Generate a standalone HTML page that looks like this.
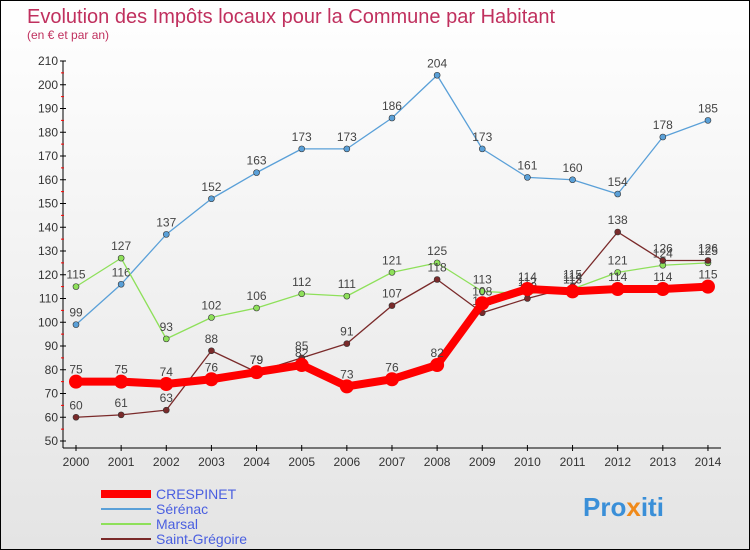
<!DOCTYPE html>
<html><head><meta charset="utf-8"><style>
body{margin:0}
#c{width:748px;height:548px;border:1px solid #000;background:linear-gradient(#fff,#e4e4e4);position:relative;overflow:hidden;font-family:"Liberation Sans",sans-serif}
</style></head><body>
<div id="c">
<svg width="748" height="548" id="s">
<text x="26" y="22" font-size="20" fill="#c0305e">Evolution des Impôts locaux pour la Commune par Habitant</text>
<text x="26" y="38" font-size="12" fill="#c0305e">(en € et par an)</text>
<g id="ax"></g><g id="ser"></g>
<g>
<line x1="100" y1="493" x2="150" y2="493" stroke="#f00" stroke-width="8"/>
<text x="155" y="498" font-size="14" fill="#4a5fe0">CRESPINET</text>
<line x1="100" y1="508" x2="150" y2="508" stroke="#5aa0d8" stroke-width="2"/>
<text x="155" y="513" font-size="14" fill="#4a5fe0">Sérénac</text>
<line x1="100" y1="523" x2="150" y2="523" stroke="#8ee05a" stroke-width="2"/>
<text x="155" y="528" font-size="14" fill="#4a5fe0">Marsal</text>
<line x1="100" y1="538" x2="150" y2="538" stroke="#7a2a2a" stroke-width="2"/>
<text x="155" y="543" font-size="14" fill="#4a5fe0">Saint-Grégoire</text>
</g>
<text x="582" y="515" font-size="26" font-weight="bold" fill="#3a8fd8">Pro<tspan fill="#f08a1a">x</tspan>iti</text>
</svg></div>
<script>
const years=[2000,2001,2002,2003,2004,2005,2006,2007,2008,2009,2010,2011,2012,2013,2014];
const yTicks=[50,60,70,80,90,100,110,120,130,140,150,160,170,180,190,200,210];
const crespinet=[75,75,74,76,79,82,73,76,82,108,114,113,114,114,115];
const serenac=[99,116,137,152,163,173,173,186,204,173,161,160,154,178,185];
const marsal=[115,127,93,102,106,112,111,121,125,113,112,114,121,124,125];
const stgregoire=[60,61,63,88,79,85,91,107,118,104,110,115,138,126,126];
const X=y=>75+(y-2000)*45.14, Y=v=>440-(v-50)*2.375;
const NS="http://www.w3.org/2000/svg";
function mk(t,a,p){const e=document.createElementNS(NS,t);for(const k in a)e.setAttribute(k,a[k]);p.appendChild(e);return e;}
const ax=document.getElementById('ax'),ser=document.getElementById('ser');
const yl=mk('line',{x1:62,y1:Y(210),x2:62,y2:447,stroke:'#000'},ax);


const xl=mk('line',{x1:62,y1:447,x2:720,y2:447,stroke:'#000'},ax);


yTicks.forEach(v=>{mk('line',{x1:59,x2:65,y1:Y(v),y2:Y(v),stroke:'#000'},ax);
if(v<210)mk('line',{x1:60,x2:63,y1:Y(v+5),y2:Y(v+5),stroke:'#f00'},ax);
const t=mk('text',{x:57,y:Y(v)+4,'font-size':12,'text-anchor':'end',fill:'#333'},ax);t.textContent=v;

});
years.forEach(y=>{mk('line',{x1:X(y),x2:X(y),y1:444,y2:450,stroke:'#000'},ax);
const t=mk('text',{x:X(y),y:465,'font-size':12,'text-anchor':'middle',fill:'#333'},ax);t.textContent=y;

});
function series(d,col,w,r,name){const g=mk('g',{},ser);


mk('polyline',{points:d.map((v,i)=>X(years[i])+','+Y(v)).join(' '),fill:'none',stroke:col,'stroke-width':w,'stroke-linejoin':'round'},g);
d.forEach((v,i)=>{const c=mk('circle',{cx:X(years[i]),cy:Y(v),r:r,fill:col,stroke:'#333','stroke-width':r>5?0:0.6},g);


const t=mk('text',{x:X(years[i]),y:Y(v)-8,'font-size':12,'text-anchor':'middle',fill:'#444'},g);t.textContent=v;

});}
series(serenac,'#5aa0d8',1.3,3,'series-serenac');
series(marsal,'#8ee05a',1.3,3,'series-marsal');
series(stgregoire,'#7a2a2a',1.3,3,'series-saint-gregoire');
series(crespinet,'#f00',8,7,'series-crespinet');
</script></body></html>
